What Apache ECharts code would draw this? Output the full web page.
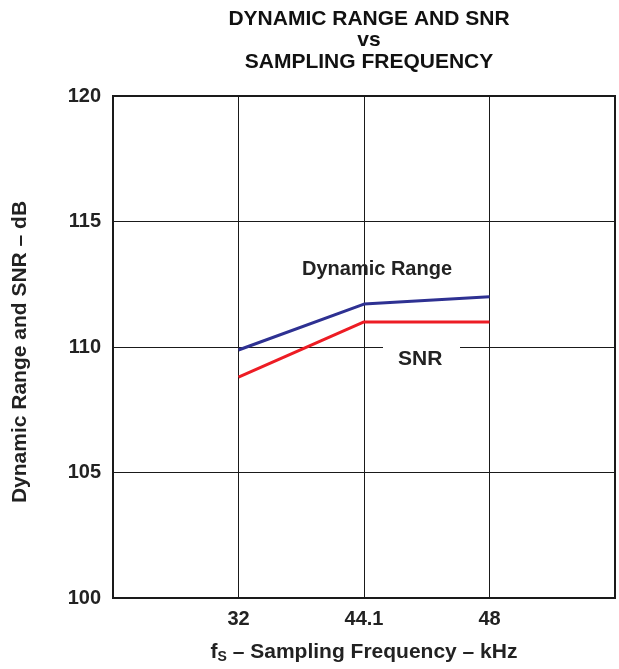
<!DOCTYPE html>
<html>
<head>
<meta charset="utf-8">
<script src="https://cdn.jsdelivr.net/npm/echarts@6/dist/echarts.min.js"></script>
<style>
html,body{margin:0;padding:0;background:#fff;}
#c{width:619px;height:669px;}
</style>
</head>
<body>
<div id="c"></div>
<script>
const categories = ['', '32', '44.1', '48', ''];
const dynamicRange = [null, 109.88, 111.71, 112.0, null];
const snr = [null, 108.8, 111.0, 111.0, null];
const yTicks = [100, 105, 110, 115, 120];

const FONT = '"Liberation Sans", Arial, sans-serif';
const chart = echarts.init(document.getElementById('c'), null, {renderer: 'canvas'});
chart.setOption({
  backgroundColor: '#fff',
  animation: false,
  title: {
    text: 'DYNAMIC RANGE AND SNR\nvs\nSAMPLING FREQUENCY',
    left: 364, top: 3, textAlign: 'center',
    textStyle: {fontFamily: FONT, fontWeight: 'bold', fontSize: 21, color: '#111', lineHeight: 21.5}
  },
  grid: {left: 113, right: 4, top: 96, bottom: 71, show: true, borderColor: '#1a1a1a', borderWidth: 2, backgroundColor: 'transparent'},
  xAxis: {
    type: 'category', data: categories, boundaryGap: false,
    axisLine: {show: false}, axisTick: {show: false},
    splitLine: {show: true, interval: 0, lineStyle: {color: '#1a1a1a', width: 1}},
    axisLabel: {interval: 0, margin: 11, fontFamily: FONT, fontWeight: 'bold', fontSize: 20, color: '#222'},
    name: '{f|f}{s|S}{f| – Sampling Frequency – kHz}',
    nameLocation: 'middle', nameGap: 42,
    nameTextStyle: {rich: {
      f: {fontFamily: FONT, fontWeight: 'bold', fontSize: 21, color: '#222'},
      s: {fontFamily: FONT, fontWeight: 'bold', fontSize: 14, color: '#222', verticalAlign: 'bottom', padding: [10, 0, 0, 0]}
    }}
  },
  yAxis: {
    type: 'value', min: 100, max: 120, interval: 5,
    axisLine: {show: false}, axisTick: {show: false},
    splitLine: {show: true, lineStyle: {color: '#1a1a1a', width: 1}},
    axisLabel: {margin: 12, fontFamily: FONT, fontWeight: 'bold', fontSize: 20, color: '#222',
      formatter: v => yTicks.includes(v) ? String(v) : ''},
    name: 'Dynamic Range and SNR – dB', nameLocation: 'middle', nameGap: 82,
    nameTextStyle: {fontFamily: FONT, fontWeight: 'bold', fontSize: 21, color: '#222', padding: [0, 10, 0, 0]}
  },
  series: [
    {name: 'Dynamic Range', type: 'line', data: dynamicRange, symbol: 'none',
     lineStyle: {color: '#2e3192', width: 3}, connectNulls: false, z: 3},
    {name: 'SNR', type: 'line', data: snr, symbol: 'none',
     lineStyle: {color: '#ed1c24', width: 3}, connectNulls: false, z: 3}
  ],
  graphic: [
    {type: 'text', left: 302, top: 259, z: 10,
     style: {text: 'Dynamic Range', fontFamily: FONT, fontWeight: 'bold', fontSize: 20, fill: '#222'}},
    {type: 'rect', shape: {x: 383, y: 338, width: 77, height: 38}, style: {fill: '#fff'}, z: 9},
    {type: 'text', left: 398, top: 349, z: 10,
     style: {text: 'SNR', fontFamily: FONT, fontWeight: 'bold', fontSize: 21, fill: '#222'}}
  ]
});
</script>
</body>
</html>
